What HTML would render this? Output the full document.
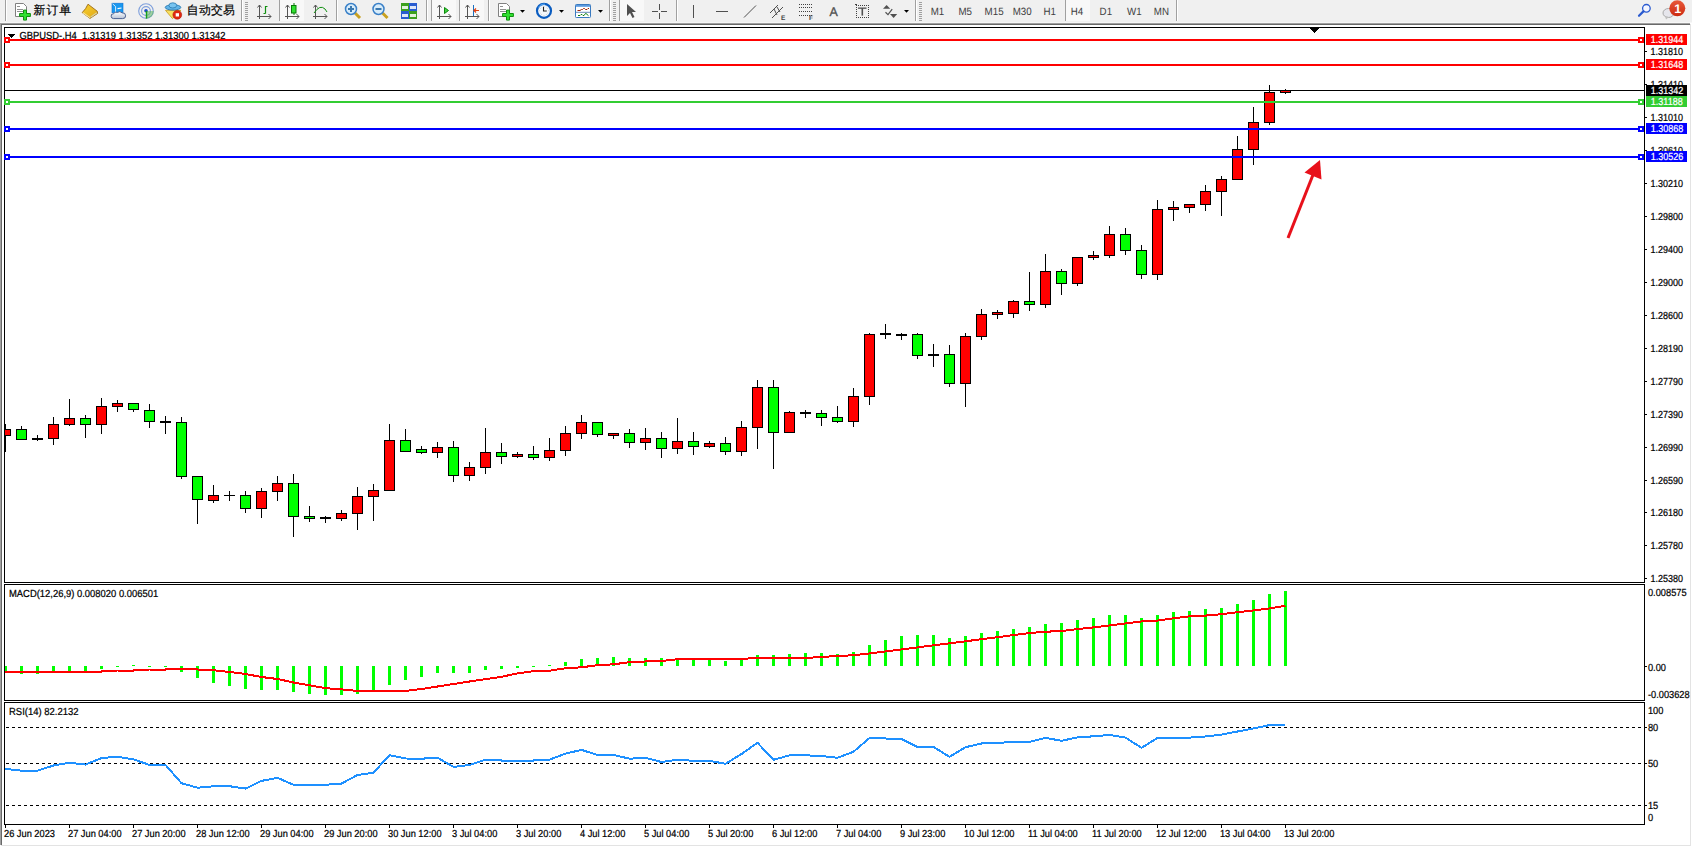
<!DOCTYPE html>
<html><head><meta charset="utf-8"><title>GBPUSD H4</title>
<style>
html,body{margin:0;padding:0;background:#f0f0f0;width:1692px;height:847px;overflow:hidden;font-family:"Liberation Sans", sans-serif;}
svg{display:block;position:absolute;left:0;top:0}
text{font-family:"Liberation Sans", sans-serif;}
</style></head><body>
<svg width="1692" height="847" viewBox="0 0 1692 847" shape-rendering="crispEdges" text-rendering="geometricPrecision">
<g shape-rendering="geometricPrecision"><rect x="0" y="0" width="1692" height="23" fill="#f0f0f0"/>
<rect x="0" y="22" width="1692" height="1" fill="#f7f7f7"/>
<rect x="5" y="0" width="1" height="21" fill="#a0a0a0"/>
<rect x="6" y="0" width="1" height="21" fill="#ffffff"/>
<rect x="241" y="0" width="1" height="21" fill="#a0a0a0"/>
<rect x="242" y="0" width="1" height="21" fill="#ffffff"/>
<rect x="279" y="0" width="1" height="21" fill="#a0a0a0"/>
<rect x="280" y="0" width="1" height="21" fill="#ffffff"/>
<rect x="336" y="0" width="1" height="21" fill="#a0a0a0"/>
<rect x="337" y="0" width="1" height="21" fill="#ffffff"/>
<rect x="426" y="0" width="1" height="21" fill="#a0a0a0"/>
<rect x="427" y="0" width="1" height="21" fill="#ffffff"/>
<rect x="431" y="0" width="1" height="21" fill="#a0a0a0"/>
<rect x="432" y="0" width="1" height="21" fill="#ffffff"/>
<rect x="459" y="0" width="1" height="21" fill="#a0a0a0"/>
<rect x="460" y="0" width="1" height="21" fill="#ffffff"/>
<rect x="488" y="0" width="1" height="21" fill="#a0a0a0"/>
<rect x="489" y="0" width="1" height="21" fill="#ffffff"/>
<rect x="609" y="0" width="1" height="21" fill="#a0a0a0"/>
<rect x="610" y="0" width="1" height="21" fill="#ffffff"/>
<rect x="619" y="0" width="1" height="21" fill="#a0a0a0"/>
<rect x="620" y="0" width="1" height="21" fill="#ffffff"/>
<rect x="676" y="0" width="1" height="21" fill="#a0a0a0"/>
<rect x="677" y="0" width="1" height="21" fill="#ffffff"/>
<rect x="915" y="0" width="1" height="21" fill="#a0a0a0"/>
<rect x="916" y="0" width="1" height="21" fill="#ffffff"/>
<rect x="1065" y="0" width="1" height="21" fill="#a0a0a0"/>
<rect x="1066" y="0" width="1" height="21" fill="#ffffff"/>
<rect x="1176" y="0" width="1" height="21" fill="#a0a0a0"/>
<rect x="1177" y="0" width="1" height="21" fill="#ffffff"/>
<rect x="245" y="2" width="3" height="1" fill="#a0a0a0"/>
<rect x="245" y="4" width="3" height="1" fill="#a0a0a0"/>
<rect x="245" y="6" width="3" height="1" fill="#a0a0a0"/>
<rect x="245" y="8" width="3" height="1" fill="#a0a0a0"/>
<rect x="245" y="10" width="3" height="1" fill="#a0a0a0"/>
<rect x="245" y="12" width="3" height="1" fill="#a0a0a0"/>
<rect x="245" y="14" width="3" height="1" fill="#a0a0a0"/>
<rect x="245" y="16" width="3" height="1" fill="#a0a0a0"/>
<rect x="245" y="18" width="3" height="1" fill="#a0a0a0"/>
<rect x="245" y="20" width="3" height="1" fill="#a0a0a0"/>
<rect x="613" y="2" width="3" height="1" fill="#a0a0a0"/>
<rect x="613" y="4" width="3" height="1" fill="#a0a0a0"/>
<rect x="613" y="6" width="3" height="1" fill="#a0a0a0"/>
<rect x="613" y="8" width="3" height="1" fill="#a0a0a0"/>
<rect x="613" y="10" width="3" height="1" fill="#a0a0a0"/>
<rect x="613" y="12" width="3" height="1" fill="#a0a0a0"/>
<rect x="613" y="14" width="3" height="1" fill="#a0a0a0"/>
<rect x="613" y="16" width="3" height="1" fill="#a0a0a0"/>
<rect x="613" y="18" width="3" height="1" fill="#a0a0a0"/>
<rect x="613" y="20" width="3" height="1" fill="#a0a0a0"/>
<rect x="919" y="2" width="3" height="1" fill="#a0a0a0"/>
<rect x="919" y="4" width="3" height="1" fill="#a0a0a0"/>
<rect x="919" y="6" width="3" height="1" fill="#a0a0a0"/>
<rect x="919" y="8" width="3" height="1" fill="#a0a0a0"/>
<rect x="919" y="10" width="3" height="1" fill="#a0a0a0"/>
<rect x="919" y="12" width="3" height="1" fill="#a0a0a0"/>
<rect x="919" y="14" width="3" height="1" fill="#a0a0a0"/>
<rect x="919" y="16" width="3" height="1" fill="#a0a0a0"/>
<rect x="919" y="18" width="3" height="1" fill="#a0a0a0"/>
<rect x="919" y="20" width="3" height="1" fill="#a0a0a0"/>
<rect x="280" y="0" width="24" height="21" fill="#f8f8f8"/>
<rect x="432" y="0" width="24" height="21" fill="#f8f8f8"/>
<rect x="460" y="0" width="24" height="21" fill="#f8f8f8"/>
<rect x="620" y="0" width="24" height="21" fill="#f8f8f8"/>
<rect x="1066" y="0" width="24" height="21" fill="#f8f8f8"/>
<path d="M15.5 3.5 h8 l3 3 v10 h-11 z" fill="#fff" stroke="#808080"/>
<rect x="17" y="6" width="3" height="1" fill="#909090"/><rect x="17" y="9" width="6" height="1" fill="#909090"/><rect x="17" y="11" width="6" height="1" fill="#909090"/>
<path d="M23.5 10.1 h3 v3.4 h3.9 v3 h-3.9 v3.6 h-3 v-3.6 h-3.9 v-3 h3.9 z" fill="#30e030" stroke="#109010" stroke-width="1"/>
<text x="33.6" y="13.6" font-family='"Liberation Sans", sans-serif' font-size="11.8" letter-spacing="1" fill="#000" stroke="#000" stroke-width="0.2">新订单</text>
<defs><linearGradient id="gbk" x1="0" y1="0" x2="1" y2="1"><stop offset="0" stop-color="#f8d030"/><stop offset="1" stop-color="#e0a818"/></linearGradient><linearGradient id="gcl" x1="0" y1="0" x2="0" y2="1"><stop offset="0" stop-color="#ffffff"/><stop offset="1" stop-color="#b8c4d8"/></linearGradient><radialGradient id="gsig" cx="0.3" cy="0.3" r="0.9"><stop offset="0" stop-color="#ffffff"/><stop offset="1" stop-color="#ffffff" stop-opacity="0"/></radialGradient><linearGradient id="gbadge" x1="0" y1="0" x2="0" y2="1"><stop offset="0" stop-color="#e8583a"/><stop offset="1" stop-color="#cc2a10"/></linearGradient></defs>
<path d="M88 4.2 L97.2 11.2 L97.6 13.4 L90 18.4 L82.2 12.6 L85.6 8.6 Z" fill="url(#gbk)" stroke="#9c6a12" stroke-width="0.9" stroke-linejoin="round"/>
<path d="M83 12.8 L90 17.6" stroke="#f6e6a0" stroke-width="1.1"/>
<path d="M90.5 17.2 L96.8 12.8" stroke="#d8d0a0" stroke-width="1.3"/>
<rect x="112" y="3.2" width="11" height="9.5" fill="#1898f0" stroke="#1070d0" stroke-width="0.6"/>
<path d="M112.6 3.8 L115.6 6.6 L115.6 12.5" fill="none" stroke="#e8f4ff" stroke-width="0.9"/>
<path d="M117.5 8.6 L121.5 8 " stroke="#ffffff" stroke-width="1.1"/>
<path d="M111.2 16.4 Q110.6 13.6 113.6 13.8 Q114.6 11.2 117.6 12.4 Q119.8 10.6 122 12.8 Q125.8 12.6 125.6 15.8 Q125.8 18.6 122.6 18.6 L113.4 18.6 Q111.2 18.4 111.2 16.4 Z" fill="url(#gcl)" stroke="#3a5488" stroke-width="0.9"/>
<circle cx="146" cy="11" r="7.3" fill="none" stroke="#6a90d8" stroke-width="1.1" opacity="0.85"/>
<circle cx="146" cy="11" r="4.4" fill="none" stroke="#6a90d8" stroke-width="1.1" opacity="0.85"/>
<path d="M146.4 11 L146.4 18.6 A7.6 7.6 0 0 0 153.8 11 Z" fill="#5cb85c" opacity="0.55"/>
<circle cx="146" cy="10.8" r="1.8" fill="#2050c8"/>
<path d="M146.5 11 L146.5 18.6" stroke="#18a018" stroke-width="1.4"/>
<path d="M165.5 10.4 L181 10.4 L172.5 18.6 Z" fill="#f8e060" stroke="#c89a18" stroke-width="0.8" stroke-linejoin="round"/>
<ellipse cx="173" cy="7.4" rx="7.8" ry="2.7" fill="#60b4e8" stroke="#2878b0" stroke-width="0.9"/>
<ellipse cx="172.8" cy="5.4" rx="3.9" ry="2.6" fill="#78c4f0" stroke="#2878b0" stroke-width="0.8"/>
<circle cx="177.3" cy="14.8" r="4.4" fill="#e02810" stroke="#b01808" stroke-width="0.6"/>
<rect x="175.7" y="13.2" width="3.3" height="3.3" fill="#fff"/>
<text x="186.8" y="13.6" font-family='"Liberation Sans", sans-serif' font-size="11.8" letter-spacing="0.3" fill="#000" stroke="#000" stroke-width="0.2">自动交易</text>
<rect x="259" y="5" width="1" height="14" fill="#555"/>
<rect x="257" y="16" width="14" height="1" fill="#555"/>
<path d="M257.5 7.5 L259.5 5 L261.5 7.5" fill="none" stroke="#555"/>
<path d="M268.5 14 L271 16.5 L268.5 19" fill="none" stroke="#555"/>
<path d="M263.5 13.5 h2 M265.5 13.5 V6.5 h2" fill="none" stroke="#109010" stroke-width="1.2"/>
<rect x="287" y="5" width="1" height="14" fill="#555"/>
<rect x="285" y="16" width="14" height="1" fill="#555"/>
<path d="M285.5 7.5 L287.5 5 L289.5 7.5" fill="none" stroke="#555"/>
<path d="M296.5 14 L299 16.5 L296.5 19" fill="none" stroke="#555"/>
<rect x="293.5" y="3" width="1" height="12" fill="#0a7a0a"/><rect x="291.5" y="5.5" width="4.5" height="7.5" fill="#30e030" stroke="#0a7a0a"/>
<rect x="315" y="5" width="1" height="14" fill="#555"/>
<rect x="313" y="16" width="14" height="1" fill="#555"/>
<path d="M313.5 7.5 L315.5 5 L317.5 7.5" fill="none" stroke="#555"/>
<path d="M324.5 14 L327 16.5 L324.5 19" fill="none" stroke="#555"/>
<path d="M314 13 Q320 4 325 9 L327 12" fill="none" stroke="#109010" stroke-width="1"/>
<line x1="355" y1="13" x2="360" y2="18" stroke="#c8a020" stroke-width="3"/>
<circle cx="351" cy="9" r="5.5" fill="#d8ecfa" stroke="#3a80c8" stroke-width="1.5"/>
<rect x="348" y="8" width="6" height="2" fill="#3a78b0"/>
<rect x="350" y="6" width="2" height="6" fill="#3a78b0"/>
<line x1="382.5" y1="13" x2="387.5" y2="18" stroke="#c8a020" stroke-width="3"/>
<circle cx="378.5" cy="9" r="5.5" fill="#d8ecfa" stroke="#3a80c8" stroke-width="1.5"/>
<rect x="375.5" y="8" width="6" height="2" fill="#3a78b0"/>
<rect x="401" y="3" width="8" height="8" fill="#3ca01e"/><rect x="409" y="3" width="8" height="8" fill="#2a5cd0"/><rect x="401" y="11" width="8" height="8" fill="#2a5cd0"/><rect x="409" y="11" width="8" height="8" fill="#3ca01e"/>
<rect x="402" y="6" width="6" height="3" fill="#fff" opacity="0.85"/>
<rect x="410" y="6" width="6" height="3" fill="#fff" opacity="0.85"/>
<rect x="402" y="14" width="6" height="3" fill="#fff" opacity="0.85"/>
<rect x="410" y="14" width="6" height="3" fill="#fff" opacity="0.85"/>
<rect x="439" y="5" width="1" height="14" fill="#555"/>
<rect x="437" y="16" width="14" height="1" fill="#555"/>
<path d="M437.5 7.5 L439.5 5 L441.5 7.5" fill="none" stroke="#555"/>
<path d="M448.5 14 L451 16.5 L448.5 19" fill="none" stroke="#555"/>
<path d="M444.5 7.5 L448.5 10.5 L444.5 13.5 Z" fill="#40d040" stroke="#0a8a0a"/>
<rect x="467" y="5" width="1" height="14" fill="#555"/>
<rect x="465" y="16" width="14" height="1" fill="#555"/>
<path d="M465.5 7.5 L467.5 5 L469.5 7.5" fill="none" stroke="#555"/>
<path d="M476.5 14 L479 16.5 L476.5 19" fill="none" stroke="#555"/>
<rect x="473" y="5" width="1" height="11" fill="#1a70c0"/>
<path d="M474 10.5 L479 10.5 M476 8.5 L474 10.5 L476 12.5" fill="none" stroke="#e04010" stroke-width="1.2"/>
<path d="M498.5 3.5 h8 l3 3 v10 h-11 z" fill="#fff" stroke="#808080"/>
<rect x="500" y="6" width="3" height="1" fill="#909090"/><rect x="500" y="9" width="6" height="1" fill="#909090"/><rect x="500" y="11" width="6" height="1" fill="#909090"/>
<path d="M506.5 10.1 h3 v3.4 h3.9 v3 h-3.9 v3.6 h-3 v-3.6 h-3.9 v-3 h3.9 z" fill="#30e030" stroke="#109010" stroke-width="1"/>
<path d="M520 10 L525 10 L522.5 12.7 Z" fill="#000"/>
<path d="M559 10 L564 10 L561.5 12.7 Z" fill="#000"/>
<path d="M598 10 L603 10 L600.5 12.7 Z" fill="#000"/>
<path d="M904 10 L909 10 L906.5 12.7 Z" fill="#000"/>
<circle cx="544" cy="10.8" r="7" fill="#f4f8fc" stroke="#0a5cc0" stroke-width="2.2"/>
<path d="M538.5 7.5 A6.5 6.5 0 0 1 545 4.2" fill="none" stroke="#60b0f8" stroke-width="1"/>
<path d="M543.5 6.8 V11 H546.8" fill="none" stroke="#222" stroke-width="1.1"/>
<circle cx="548.40" cy="10.80" r="0.35" fill="#888"/>
<circle cx="547.81" cy="13.00" r="0.35" fill="#888"/>
<circle cx="546.20" cy="14.61" r="0.35" fill="#888"/>
<circle cx="544.00" cy="15.20" r="0.35" fill="#888"/>
<circle cx="541.80" cy="14.61" r="0.35" fill="#888"/>
<circle cx="540.19" cy="13.00" r="0.35" fill="#888"/>
<circle cx="539.60" cy="10.80" r="0.35" fill="#888"/>
<circle cx="540.19" cy="8.60" r="0.35" fill="#888"/>
<circle cx="541.80" cy="6.99" r="0.35" fill="#888"/>
<circle cx="544.00" cy="6.40" r="0.35" fill="#888"/>
<circle cx="546.20" cy="6.99" r="0.35" fill="#888"/>
<circle cx="547.81" cy="8.60" r="0.35" fill="#888"/>
<rect x="575.5" y="4.5" width="15" height="13" rx="0.8" fill="#fff" stroke="#3a7ac0"/><rect x="576" y="5" width="14" height="1.8" fill="#5a9ae0"/><rect x="576" y="11.8" width="14" height="1" fill="#6a8ab8"/>
<path d="M577.5 10.5 H580 L581.5 9.5 H582.5 L583.5 8.5 H584.5 L585.5 9.5 H587 L588 8.5 H589" fill="none" stroke="#a02000" stroke-width="1"/><path d="M578 15.5 H580 L581 14.5 H582 L583 15.5 H584 L585.5 13.5 H586 L588.5 15.7" fill="none" stroke="#108010" stroke-width="1"/>
<path d="M627 4 L627 16 L630 13 L632.5 18 L634.5 17 L632 12 L636 12 Z" fill="#505050"/>
<rect x="659" y="4" width="1" height="6" fill="#505050"/><rect x="659" y="13" width="1" height="6" fill="#505050"/><rect x="652" y="11" width="6" height="1" fill="#505050"/><rect x="661" y="11" width="6" height="1" fill="#505050"/>
<rect x="693" y="5" width="1" height="13" fill="#505050"/>
<rect x="716" y="11" width="12" height="1" fill="#505050"/>
<line x1="744" y1="17.5" x2="756" y2="5.5" stroke="#505050" stroke-width="1"/>
<line x1="770" y1="13" x2="778" y2="5" stroke="#505050"/><line x1="772" y1="18" x2="783" y2="7" stroke="#505050"/><line x1="774" y1="9" x2="777" y2="15" stroke="#505050"/><line x1="777" y1="7" x2="780" y2="12" stroke="#505050"/>
<text x="781" y="20" font-family='"Liberation Sans", sans-serif' font-size="6.5" font-weight="bold" fill="#404040">E</text>
<line x1="799" y1="4.5" x2="812" y2="4.5" stroke="#404040" stroke-dasharray="1 1"/>
<line x1="799" y1="7.5" x2="812" y2="7.5" stroke="#404040" stroke-dasharray="1 1"/>
<line x1="799" y1="11.5" x2="812" y2="11.5" stroke="#404040" stroke-dasharray="1 1"/>
<line x1="799" y1="15.5" x2="812" y2="15.5" stroke="#404040" stroke-dasharray="1 1"/>
<text x="809" y="20" font-family='"Liberation Sans", sans-serif' font-size="6.5" font-weight="bold" fill="#404040">F</text>
<text x="829.6" y="16" font-family='"Liberation Sans", sans-serif' font-size="12.4" fill="#505050" stroke="#505050" stroke-width="0.35">A</text>
<rect x="856" y="5" width="1" height="1" fill="#404040"/>
<rect x="856" y="17" width="1" height="1" fill="#404040"/>
<rect x="858" y="5" width="1" height="1" fill="#404040"/>
<rect x="858" y="17" width="1" height="1" fill="#404040"/>
<rect x="860" y="5" width="1" height="1" fill="#404040"/>
<rect x="860" y="17" width="1" height="1" fill="#404040"/>
<rect x="862" y="5" width="1" height="1" fill="#404040"/>
<rect x="862" y="17" width="1" height="1" fill="#404040"/>
<rect x="864" y="5" width="1" height="1" fill="#404040"/>
<rect x="864" y="17" width="1" height="1" fill="#404040"/>
<rect x="866" y="5" width="1" height="1" fill="#404040"/>
<rect x="866" y="17" width="1" height="1" fill="#404040"/>
<rect x="868" y="5" width="1" height="1" fill="#404040"/>
<rect x="868" y="17" width="1" height="1" fill="#404040"/>
<rect x="856" y="7" width="1" height="1" fill="#404040"/>
<rect x="868" y="7" width="1" height="1" fill="#404040"/>
<rect x="856" y="9" width="1" height="1" fill="#404040"/>
<rect x="868" y="9" width="1" height="1" fill="#404040"/>
<rect x="856" y="11" width="1" height="1" fill="#404040"/>
<rect x="868" y="11" width="1" height="1" fill="#404040"/>
<rect x="856" y="13" width="1" height="1" fill="#404040"/>
<rect x="868" y="13" width="1" height="1" fill="#404040"/>
<rect x="856" y="15" width="1" height="1" fill="#404040"/>
<rect x="868" y="15" width="1" height="1" fill="#404040"/>
<rect x="855" y="4" width="2" height="1" fill="#404040"/>
<rect x="858" y="7.5" width="8.5" height="1.3" fill="#505050"/><rect x="861.5" y="8" width="1.6" height="7.6" fill="#505050"/>
<path d="M883 8.8 L886.6 5 L890.2 8.8 Z" fill="#505050"/><path d="M890 14 L897.2 14 L893.6 18 Z" fill="#505050"/><path d="M885.5 12.2 L888 14.6 L892.2 9.2" fill="none" stroke="#505050" stroke-width="1.2"/>
<text x="930.7" y="15" transform="translate(74.456,0) scale(0.92,1)" font-family='"Liberation Sans", sans-serif' font-size="10.6" fill="#404040">M1</text>
<text x="958.5" y="15" transform="translate(76.680,0) scale(0.92,1)" font-family='"Liberation Sans", sans-serif' font-size="10.6" fill="#404040">M5</text>
<text x="984.6" y="15" transform="translate(78.768,0) scale(0.92,1)" font-family='"Liberation Sans", sans-serif' font-size="10.6" fill="#404040">M15</text>
<text x="1012.7" y="15" transform="translate(81.016,0) scale(0.92,1)" font-family='"Liberation Sans", sans-serif' font-size="10.6" fill="#404040">M30</text>
<text x="1043.5" y="15" transform="translate(83.480,0) scale(0.92,1)" font-family='"Liberation Sans", sans-serif' font-size="10.6" fill="#404040">H1</text>
<text x="1070.8" y="15" transform="translate(85.664,0) scale(0.92,1)" font-family='"Liberation Sans", sans-serif' font-size="10.6" fill="#404040">H4</text>
<text x="1099.6" y="15" transform="translate(87.968,0) scale(0.92,1)" font-family='"Liberation Sans", sans-serif' font-size="10.6" fill="#404040">D1</text>
<text x="1127" y="15" transform="translate(90.160,0) scale(0.92,1)" font-family='"Liberation Sans", sans-serif' font-size="10.6" fill="#404040">W1</text>
<text x="1153.8" y="15" transform="translate(92.304,0) scale(0.92,1)" font-family='"Liberation Sans", sans-serif' font-size="10.6" fill="#404040">MN</text>
<circle cx="1646.4" cy="8.3" r="3.8" fill="#f4f6ff" stroke="#2a5ad0" stroke-width="1.3"/>
<line x1="1643.4" y1="11.4" x2="1639" y2="15.8" stroke="#2a5ad0" stroke-width="2.2" stroke-linecap="round"/>
<ellipse cx="1668.5" cy="13" rx="5.5" ry="4.5" fill="#e6e6ec" stroke="#a8a8a8"/>
<path d="M1665 16 L1666 19.5 L1669 17" fill="#c0c0c0"/>
<circle cx="1677.3" cy="8.3" r="8" fill="url(#gbadge)"/>
<text x="1674.3" y="13.2" font-family="Liberation Serif, serif" font-size="12.5" font-weight="bold" fill="#fff">1</text></g>
<rect x="0" y="23" width="1692" height="824" fill="#ffffff"/>
<rect x="0" y="23" width="1690" height="1" fill="#a0a0a0"/>
<rect x="1" y="24" width="1689" height="1" fill="#696969"/>
<rect x="0" y="23" width="1" height="822" fill="#a0a0a0"/>
<rect x="1" y="24" width="1" height="821" fill="#696969"/>
<rect x="1690" y="24" width="1" height="822" fill="#e3e3e3"/>
<rect x="1" y="845" width="1690" height="1" fill="#e3e3e3"/>
<rect x="4" y="27" width="1641" height="1" fill="#000"/>
<rect x="4" y="582" width="1641" height="1" fill="#000"/>
<rect x="4" y="27" width="1" height="556" fill="#000"/>
<rect x="1644" y="27" width="1" height="556" fill="#000"/>
<rect x="4" y="584" width="1641" height="1" fill="#000"/>
<rect x="4" y="700" width="1641" height="1" fill="#000"/>
<rect x="4" y="584" width="1" height="117" fill="#000"/>
<rect x="1644" y="584" width="1" height="117" fill="#000"/>
<rect x="4" y="702" width="1641" height="1" fill="#000"/>
<rect x="4" y="824" width="1641" height="1" fill="#000"/>
<rect x="4" y="702" width="1" height="123" fill="#000"/>
<rect x="1644" y="702" width="1" height="123" fill="#000"/>
<defs><clipPath id="cm"><rect x="5" y="28" width="1639" height="554"/></clipPath></defs>
<g clip-path="url(#cm)">
<rect x="5" y="424" width="1" height="28" fill="#000"/>
<rect x="0" y="429" width="11" height="7" fill="#000"/>
<rect x="1" y="430" width="9" height="5" fill="#ff0000"/>
<rect x="21" y="426" width="1" height="14" fill="#000"/>
<rect x="16" y="429" width="11" height="11" fill="#000"/>
<rect x="17" y="430" width="9" height="9" fill="#00ff00"/>
<rect x="37" y="435" width="1" height="6" fill="#000"/>
<rect x="32" y="438" width="11" height="2" fill="#000"/>
<rect x="53" y="417" width="1" height="28" fill="#000"/>
<rect x="48" y="424" width="11" height="15" fill="#000"/>
<rect x="49" y="425" width="9" height="13" fill="#ff0000"/>
<rect x="69" y="399" width="1" height="27" fill="#000"/>
<rect x="64" y="418" width="11" height="7" fill="#000"/>
<rect x="65" y="419" width="9" height="5" fill="#ff0000"/>
<rect x="85" y="415" width="1" height="23" fill="#000"/>
<rect x="80" y="418" width="11" height="7" fill="#000"/>
<rect x="81" y="419" width="9" height="5" fill="#00ff00"/>
<rect x="101" y="398" width="1" height="36" fill="#000"/>
<rect x="96" y="406" width="11" height="19" fill="#000"/>
<rect x="97" y="407" width="9" height="17" fill="#ff0000"/>
<rect x="117" y="400" width="1" height="12" fill="#000"/>
<rect x="112" y="403" width="11" height="4" fill="#000"/>
<rect x="113" y="404" width="9" height="2" fill="#ff0000"/>
<rect x="133" y="403" width="1" height="9" fill="#000"/>
<rect x="128" y="403" width="11" height="7" fill="#000"/>
<rect x="129" y="404" width="9" height="5" fill="#00ff00"/>
<rect x="149" y="404" width="1" height="24" fill="#000"/>
<rect x="144" y="410" width="11" height="12" fill="#000"/>
<rect x="145" y="411" width="9" height="10" fill="#00ff00"/>
<rect x="165" y="416" width="1" height="18" fill="#000"/>
<rect x="160" y="421" width="11" height="2" fill="#000"/>
<rect x="181" y="417" width="1" height="62" fill="#000"/>
<rect x="176" y="422" width="11" height="55" fill="#000"/>
<rect x="177" y="423" width="9" height="53" fill="#00ff00"/>
<rect x="197" y="476" width="1" height="48" fill="#000"/>
<rect x="192" y="476" width="11" height="24" fill="#000"/>
<rect x="193" y="477" width="9" height="22" fill="#00ff00"/>
<rect x="213" y="485" width="1" height="18" fill="#000"/>
<rect x="208" y="495" width="11" height="6" fill="#000"/>
<rect x="209" y="496" width="9" height="4" fill="#ff0000"/>
<rect x="229" y="491" width="1" height="10" fill="#000"/>
<rect x="224" y="495" width="11" height="1" fill="#000"/>
<rect x="245" y="491" width="1" height="22" fill="#000"/>
<rect x="240" y="495" width="11" height="14" fill="#000"/>
<rect x="241" y="496" width="9" height="12" fill="#00ff00"/>
<rect x="261" y="488" width="1" height="30" fill="#000"/>
<rect x="256" y="491" width="11" height="18" fill="#000"/>
<rect x="257" y="492" width="9" height="16" fill="#ff0000"/>
<rect x="277" y="476" width="1" height="25" fill="#000"/>
<rect x="272" y="483" width="11" height="9" fill="#000"/>
<rect x="273" y="484" width="9" height="7" fill="#ff0000"/>
<rect x="293" y="474" width="1" height="63" fill="#000"/>
<rect x="288" y="483" width="11" height="34" fill="#000"/>
<rect x="289" y="484" width="9" height="32" fill="#00ff00"/>
<rect x="309" y="506" width="1" height="16" fill="#000"/>
<rect x="304" y="516" width="11" height="3" fill="#000"/>
<rect x="305" y="517" width="9" height="1" fill="#00ff00"/>
<rect x="325" y="516" width="1" height="7" fill="#000"/>
<rect x="320" y="517" width="11" height="2" fill="#000"/>
<rect x="341" y="510" width="1" height="11" fill="#000"/>
<rect x="336" y="513" width="11" height="6" fill="#000"/>
<rect x="337" y="514" width="9" height="4" fill="#ff0000"/>
<rect x="357" y="487" width="1" height="43" fill="#000"/>
<rect x="352" y="496" width="11" height="18" fill="#000"/>
<rect x="353" y="497" width="9" height="16" fill="#ff0000"/>
<rect x="373" y="484" width="1" height="37" fill="#000"/>
<rect x="368" y="490" width="11" height="7" fill="#000"/>
<rect x="369" y="491" width="9" height="5" fill="#ff0000"/>
<rect x="389" y="424" width="1" height="67" fill="#000"/>
<rect x="384" y="440" width="11" height="51" fill="#000"/>
<rect x="385" y="441" width="9" height="49" fill="#ff0000"/>
<rect x="405" y="429" width="1" height="23" fill="#000"/>
<rect x="400" y="440" width="11" height="12" fill="#000"/>
<rect x="401" y="441" width="9" height="10" fill="#00ff00"/>
<rect x="421" y="446" width="1" height="8" fill="#000"/>
<rect x="416" y="449" width="11" height="4" fill="#000"/>
<rect x="417" y="450" width="9" height="2" fill="#00ff00"/>
<rect x="437" y="442" width="1" height="16" fill="#000"/>
<rect x="432" y="447" width="11" height="6" fill="#000"/>
<rect x="433" y="448" width="9" height="4" fill="#ff0000"/>
<rect x="453" y="441" width="1" height="41" fill="#000"/>
<rect x="448" y="447" width="11" height="29" fill="#000"/>
<rect x="449" y="448" width="9" height="27" fill="#00ff00"/>
<rect x="469" y="462" width="1" height="19" fill="#000"/>
<rect x="464" y="467" width="11" height="9" fill="#000"/>
<rect x="465" y="468" width="9" height="7" fill="#ff0000"/>
<rect x="485" y="428" width="1" height="46" fill="#000"/>
<rect x="480" y="452" width="11" height="16" fill="#000"/>
<rect x="481" y="453" width="9" height="14" fill="#ff0000"/>
<rect x="501" y="443" width="1" height="21" fill="#000"/>
<rect x="496" y="452" width="11" height="5" fill="#000"/>
<rect x="497" y="453" width="9" height="3" fill="#00ff00"/>
<rect x="517" y="452" width="1" height="6" fill="#000"/>
<rect x="512" y="454" width="11" height="3" fill="#000"/>
<rect x="513" y="455" width="9" height="1" fill="#ff0000"/>
<rect x="533" y="446" width="1" height="14" fill="#000"/>
<rect x="528" y="454" width="11" height="4" fill="#000"/>
<rect x="529" y="455" width="9" height="2" fill="#00ff00"/>
<rect x="549" y="438" width="1" height="23" fill="#000"/>
<rect x="544" y="450" width="11" height="8" fill="#000"/>
<rect x="545" y="451" width="9" height="6" fill="#ff0000"/>
<rect x="565" y="426" width="1" height="30" fill="#000"/>
<rect x="560" y="433" width="11" height="18" fill="#000"/>
<rect x="561" y="434" width="9" height="16" fill="#ff0000"/>
<rect x="581" y="415" width="1" height="24" fill="#000"/>
<rect x="576" y="422" width="11" height="12" fill="#000"/>
<rect x="577" y="423" width="9" height="10" fill="#ff0000"/>
<rect x="597" y="422" width="1" height="15" fill="#000"/>
<rect x="592" y="422" width="11" height="13" fill="#000"/>
<rect x="593" y="423" width="9" height="11" fill="#00ff00"/>
<rect x="613" y="433" width="1" height="6" fill="#000"/>
<rect x="608" y="433" width="11" height="3" fill="#000"/>
<rect x="609" y="434" width="9" height="1" fill="#ff0000"/>
<rect x="629" y="429" width="1" height="19" fill="#000"/>
<rect x="624" y="433" width="11" height="10" fill="#000"/>
<rect x="625" y="434" width="9" height="8" fill="#00ff00"/>
<rect x="645" y="428" width="1" height="22" fill="#000"/>
<rect x="640" y="438" width="11" height="5" fill="#000"/>
<rect x="641" y="439" width="9" height="3" fill="#ff0000"/>
<rect x="661" y="432" width="1" height="26" fill="#000"/>
<rect x="656" y="438" width="11" height="11" fill="#000"/>
<rect x="657" y="439" width="9" height="9" fill="#00ff00"/>
<rect x="677" y="418" width="1" height="36" fill="#000"/>
<rect x="672" y="441" width="11" height="8" fill="#000"/>
<rect x="673" y="442" width="9" height="6" fill="#ff0000"/>
<rect x="693" y="432" width="1" height="23" fill="#000"/>
<rect x="688" y="441" width="11" height="6" fill="#000"/>
<rect x="689" y="442" width="9" height="4" fill="#00ff00"/>
<rect x="709" y="441" width="1" height="7" fill="#000"/>
<rect x="704" y="443" width="11" height="4" fill="#000"/>
<rect x="705" y="444" width="9" height="2" fill="#ff0000"/>
<rect x="725" y="437" width="1" height="18" fill="#000"/>
<rect x="720" y="443" width="11" height="9" fill="#000"/>
<rect x="721" y="444" width="9" height="7" fill="#00ff00"/>
<rect x="741" y="421" width="1" height="35" fill="#000"/>
<rect x="736" y="427" width="11" height="25" fill="#000"/>
<rect x="737" y="428" width="9" height="23" fill="#ff0000"/>
<rect x="757" y="380" width="1" height="69" fill="#000"/>
<rect x="752" y="387" width="11" height="41" fill="#000"/>
<rect x="753" y="388" width="9" height="39" fill="#ff0000"/>
<rect x="773" y="380" width="1" height="89" fill="#000"/>
<rect x="768" y="387" width="11" height="46" fill="#000"/>
<rect x="769" y="388" width="9" height="44" fill="#00ff00"/>
<rect x="789" y="411" width="1" height="22" fill="#000"/>
<rect x="784" y="412" width="11" height="21" fill="#000"/>
<rect x="785" y="413" width="9" height="19" fill="#ff0000"/>
<rect x="805" y="410" width="1" height="8" fill="#000"/>
<rect x="800" y="412" width="11" height="2" fill="#000"/>
<rect x="821" y="410" width="1" height="16" fill="#000"/>
<rect x="816" y="413" width="11" height="5" fill="#000"/>
<rect x="817" y="414" width="9" height="3" fill="#00ff00"/>
<rect x="837" y="406" width="1" height="17" fill="#000"/>
<rect x="832" y="417" width="11" height="5" fill="#000"/>
<rect x="833" y="418" width="9" height="3" fill="#00ff00"/>
<rect x="853" y="388" width="1" height="39" fill="#000"/>
<rect x="848" y="396" width="11" height="26" fill="#000"/>
<rect x="849" y="397" width="9" height="24" fill="#ff0000"/>
<rect x="869" y="333" width="1" height="72" fill="#000"/>
<rect x="864" y="334" width="11" height="63" fill="#000"/>
<rect x="865" y="335" width="9" height="61" fill="#ff0000"/>
<rect x="885" y="324" width="1" height="15" fill="#000"/>
<rect x="880" y="333" width="11" height="2" fill="#000"/>
<rect x="901" y="333" width="1" height="7" fill="#000"/>
<rect x="896" y="334" width="11" height="2" fill="#000"/>
<rect x="917" y="333" width="1" height="26" fill="#000"/>
<rect x="912" y="334" width="11" height="22" fill="#000"/>
<rect x="913" y="335" width="9" height="20" fill="#00ff00"/>
<rect x="933" y="344" width="1" height="23" fill="#000"/>
<rect x="928" y="354" width="11" height="2" fill="#000"/>
<rect x="949" y="345" width="1" height="42" fill="#000"/>
<rect x="944" y="354" width="11" height="30" fill="#000"/>
<rect x="945" y="355" width="9" height="28" fill="#00ff00"/>
<rect x="965" y="333" width="1" height="74" fill="#000"/>
<rect x="960" y="336" width="11" height="48" fill="#000"/>
<rect x="961" y="337" width="9" height="46" fill="#ff0000"/>
<rect x="981" y="309" width="1" height="31" fill="#000"/>
<rect x="976" y="314" width="11" height="23" fill="#000"/>
<rect x="977" y="315" width="9" height="21" fill="#ff0000"/>
<rect x="997" y="310" width="1" height="9" fill="#000"/>
<rect x="992" y="312" width="11" height="3" fill="#000"/>
<rect x="993" y="313" width="9" height="1" fill="#ff0000"/>
<rect x="1013" y="300" width="1" height="18" fill="#000"/>
<rect x="1008" y="301" width="11" height="13" fill="#000"/>
<rect x="1009" y="302" width="9" height="11" fill="#ff0000"/>
<rect x="1029" y="272" width="1" height="39" fill="#000"/>
<rect x="1024" y="301" width="11" height="4" fill="#000"/>
<rect x="1025" y="302" width="9" height="2" fill="#00ff00"/>
<rect x="1045" y="254" width="1" height="54" fill="#000"/>
<rect x="1040" y="271" width="11" height="34" fill="#000"/>
<rect x="1041" y="272" width="9" height="32" fill="#ff0000"/>
<rect x="1061" y="269" width="1" height="26" fill="#000"/>
<rect x="1056" y="271" width="11" height="13" fill="#000"/>
<rect x="1057" y="272" width="9" height="11" fill="#00ff00"/>
<rect x="1077" y="257" width="1" height="29" fill="#000"/>
<rect x="1072" y="257" width="11" height="27" fill="#000"/>
<rect x="1073" y="258" width="9" height="25" fill="#ff0000"/>
<rect x="1093" y="251" width="1" height="9" fill="#000"/>
<rect x="1088" y="255" width="11" height="3" fill="#000"/>
<rect x="1089" y="256" width="9" height="1" fill="#ff0000"/>
<rect x="1109" y="226" width="1" height="32" fill="#000"/>
<rect x="1104" y="234" width="11" height="22" fill="#000"/>
<rect x="1105" y="235" width="9" height="20" fill="#ff0000"/>
<rect x="1125" y="228" width="1" height="27" fill="#000"/>
<rect x="1120" y="234" width="11" height="17" fill="#000"/>
<rect x="1121" y="235" width="9" height="15" fill="#00ff00"/>
<rect x="1141" y="245" width="1" height="34" fill="#000"/>
<rect x="1136" y="250" width="11" height="25" fill="#000"/>
<rect x="1137" y="251" width="9" height="23" fill="#00ff00"/>
<rect x="1157" y="200" width="1" height="80" fill="#000"/>
<rect x="1152" y="209" width="11" height="66" fill="#000"/>
<rect x="1153" y="210" width="9" height="64" fill="#ff0000"/>
<rect x="1173" y="201" width="1" height="20" fill="#000"/>
<rect x="1168" y="207" width="11" height="3" fill="#000"/>
<rect x="1169" y="208" width="9" height="1" fill="#ff0000"/>
<rect x="1189" y="204" width="1" height="9" fill="#000"/>
<rect x="1184" y="204" width="11" height="4" fill="#000"/>
<rect x="1185" y="205" width="9" height="2" fill="#ff0000"/>
<rect x="1205" y="185" width="1" height="26" fill="#000"/>
<rect x="1200" y="191" width="11" height="14" fill="#000"/>
<rect x="1201" y="192" width="9" height="12" fill="#ff0000"/>
<rect x="1221" y="176" width="1" height="40" fill="#000"/>
<rect x="1216" y="179" width="11" height="13" fill="#000"/>
<rect x="1217" y="180" width="9" height="11" fill="#ff0000"/>
<rect x="1237" y="136" width="1" height="44" fill="#000"/>
<rect x="1232" y="149" width="11" height="31" fill="#000"/>
<rect x="1233" y="150" width="9" height="29" fill="#ff0000"/>
<rect x="1253" y="107" width="1" height="58" fill="#000"/>
<rect x="1248" y="122" width="11" height="28" fill="#000"/>
<rect x="1249" y="123" width="9" height="26" fill="#ff0000"/>
<rect x="1269" y="85" width="1" height="40" fill="#000"/>
<rect x="1264" y="92" width="11" height="31" fill="#000"/>
<rect x="1265" y="93" width="9" height="29" fill="#ff0000"/>
<rect x="1285" y="89" width="1" height="5" fill="#000"/>
<rect x="1280" y="90" width="11" height="3" fill="#000"/>
<rect x="1281" y="91" width="9" height="1" fill="#ff0000"/>
</g>
<rect x="5" y="39" width="1639" height="2" fill="#ff0000"/>
<rect x="4" y="37" width="6" height="6" fill="#ff0000"/>
<rect x="6" y="39" width="2" height="2" fill="#fff"/>
<rect x="1638" y="37" width="6" height="6" fill="#ff0000"/>
<rect x="1640" y="39" width="2" height="2" fill="#fff"/>
<rect x="5" y="64" width="1639" height="2" fill="#ff0000"/>
<rect x="4" y="62" width="6" height="6" fill="#ff0000"/>
<rect x="6" y="64" width="2" height="2" fill="#fff"/>
<rect x="1638" y="62" width="6" height="6" fill="#ff0000"/>
<rect x="1640" y="64" width="2" height="2" fill="#fff"/>
<rect x="5" y="90" width="1639" height="1" fill="#000"/>
<rect x="5" y="101" width="1639" height="2" fill="#32cd32"/>
<rect x="4" y="99" width="6" height="6" fill="#32cd32"/>
<rect x="6" y="101" width="2" height="2" fill="#fff"/>
<rect x="1638" y="99" width="6" height="6" fill="#32cd32"/>
<rect x="1640" y="101" width="2" height="2" fill="#fff"/>
<rect x="5" y="128" width="1639" height="2" fill="#0000ff"/>
<rect x="4" y="126" width="6" height="6" fill="#0000ff"/>
<rect x="6" y="128" width="2" height="2" fill="#fff"/>
<rect x="1638" y="126" width="6" height="6" fill="#0000ff"/>
<rect x="1640" y="128" width="2" height="2" fill="#fff"/>
<rect x="5" y="156" width="1639" height="2" fill="#0000ff"/>
<rect x="4" y="154" width="6" height="6" fill="#0000ff"/>
<rect x="6" y="156" width="2" height="2" fill="#fff"/>
<rect x="1638" y="154" width="6" height="6" fill="#0000ff"/>
<rect x="1640" y="156" width="2" height="2" fill="#fff"/>
<path d="M1309.5 28 L1319.5 28 L1314.5 33 Z" fill="#000"/>
<path d="M8 34 L15 34 L11.5 38 Z" fill="#000"/>
<g shape-rendering="geometricPrecision"><line x1="1288" y1="238" x2="1314.5" y2="171" stroke="#e8111b" stroke-width="3"/>
<path d="M1320 160 L1321.5 179.5 L1304.5 172.5 Z" fill="#e8111b"/></g>
<text x="19.4" y="39" transform="translate(1.534,0) scale(0.9209,1)" font-family='"Liberation Sans", sans-serif' font-size="10.2" fill="#000" stroke="#000" stroke-width="0.22">GBPUSD-.H4&#160; 1.31319 1.31352 1.31300 1.31342</text>
<rect x="1645" y="51" width="2" height="1" fill="#000"/>
<text x="1650.5" y="55" transform="translate(195.487,0) scale(0.8816,1)" font-family='"Liberation Sans", sans-serif' font-size="10.2" fill="#000" stroke="#000" stroke-width="0.22">1.31810</text>
<rect x="1645" y="84" width="2" height="1" fill="#000"/>
<text x="1650.5" y="88" transform="translate(195.487,0) scale(0.8816,1)" font-family='"Liberation Sans", sans-serif' font-size="10.2" fill="#000" stroke="#000" stroke-width="0.22">1.31410</text>
<rect x="1645" y="117" width="2" height="1" fill="#000"/>
<text x="1650.5" y="121" transform="translate(195.487,0) scale(0.8816,1)" font-family='"Liberation Sans", sans-serif' font-size="10.2" fill="#000" stroke="#000" stroke-width="0.22">1.31010</text>
<rect x="1645" y="150" width="2" height="1" fill="#000"/>
<text x="1650.5" y="154" transform="translate(195.487,0) scale(0.8816,1)" font-family='"Liberation Sans", sans-serif' font-size="10.2" fill="#000" stroke="#000" stroke-width="0.22">1.30610</text>
<rect x="1645" y="183" width="2" height="1" fill="#000"/>
<text x="1650.5" y="187" transform="translate(195.487,0) scale(0.8816,1)" font-family='"Liberation Sans", sans-serif' font-size="10.2" fill="#000" stroke="#000" stroke-width="0.22">1.30210</text>
<rect x="1645" y="216" width="2" height="1" fill="#000"/>
<text x="1650.5" y="220" transform="translate(195.487,0) scale(0.8816,1)" font-family='"Liberation Sans", sans-serif' font-size="10.2" fill="#000" stroke="#000" stroke-width="0.22">1.29800</text>
<rect x="1645" y="249" width="2" height="1" fill="#000"/>
<text x="1650.5" y="253" transform="translate(195.487,0) scale(0.8816,1)" font-family='"Liberation Sans", sans-serif' font-size="10.2" fill="#000" stroke="#000" stroke-width="0.22">1.29400</text>
<rect x="1645" y="282" width="2" height="1" fill="#000"/>
<text x="1650.5" y="286" transform="translate(195.487,0) scale(0.8816,1)" font-family='"Liberation Sans", sans-serif' font-size="10.2" fill="#000" stroke="#000" stroke-width="0.22">1.29000</text>
<rect x="1645" y="315" width="2" height="1" fill="#000"/>
<text x="1650.5" y="319" transform="translate(195.487,0) scale(0.8816,1)" font-family='"Liberation Sans", sans-serif' font-size="10.2" fill="#000" stroke="#000" stroke-width="0.22">1.28600</text>
<rect x="1645" y="348" width="2" height="1" fill="#000"/>
<text x="1650.5" y="352" transform="translate(195.487,0) scale(0.8816,1)" font-family='"Liberation Sans", sans-serif' font-size="10.2" fill="#000" stroke="#000" stroke-width="0.22">1.28190</text>
<rect x="1645" y="381" width="2" height="1" fill="#000"/>
<text x="1650.5" y="385" transform="translate(195.487,0) scale(0.8816,1)" font-family='"Liberation Sans", sans-serif' font-size="10.2" fill="#000" stroke="#000" stroke-width="0.22">1.27790</text>
<rect x="1645" y="414" width="2" height="1" fill="#000"/>
<text x="1650.5" y="418" transform="translate(195.487,0) scale(0.8816,1)" font-family='"Liberation Sans", sans-serif' font-size="10.2" fill="#000" stroke="#000" stroke-width="0.22">1.27390</text>
<rect x="1645" y="447" width="2" height="1" fill="#000"/>
<text x="1650.5" y="451" transform="translate(195.487,0) scale(0.8816,1)" font-family='"Liberation Sans", sans-serif' font-size="10.2" fill="#000" stroke="#000" stroke-width="0.22">1.26990</text>
<rect x="1645" y="480" width="2" height="1" fill="#000"/>
<text x="1650.5" y="484" transform="translate(195.487,0) scale(0.8816,1)" font-family='"Liberation Sans", sans-serif' font-size="10.2" fill="#000" stroke="#000" stroke-width="0.22">1.26590</text>
<rect x="1645" y="512" width="2" height="1" fill="#000"/>
<text x="1650.5" y="516" transform="translate(195.487,0) scale(0.8816,1)" font-family='"Liberation Sans", sans-serif' font-size="10.2" fill="#000" stroke="#000" stroke-width="0.22">1.26180</text>
<rect x="1645" y="545" width="2" height="1" fill="#000"/>
<text x="1650.5" y="549" transform="translate(195.487,0) scale(0.8816,1)" font-family='"Liberation Sans", sans-serif' font-size="10.2" fill="#000" stroke="#000" stroke-width="0.22">1.25780</text>
<rect x="1645" y="578" width="2" height="1" fill="#000"/>
<text x="1650.5" y="582" transform="translate(195.487,0) scale(0.8816,1)" font-family='"Liberation Sans", sans-serif' font-size="10.2" fill="#000" stroke="#000" stroke-width="0.22">1.25380</text>
<rect x="1646" y="34" width="41" height="11" fill="#ff0000"/>
<text x="1650.8" y="43" transform="translate(195.523,0) scale(0.8816,1)" font-family='"Liberation Sans", sans-serif' font-size="10.2" fill="#fff" stroke="#fff" stroke-width="0.22">1.31944</text>
<rect x="1646" y="59" width="41" height="11" fill="#ff0000"/>
<text x="1650.8" y="68" transform="translate(195.523,0) scale(0.8816,1)" font-family='"Liberation Sans", sans-serif' font-size="10.2" fill="#fff" stroke="#fff" stroke-width="0.22">1.31648</text>
<rect x="1646" y="85" width="41" height="11" fill="#000000"/>
<text x="1650.8" y="94" transform="translate(195.523,0) scale(0.8816,1)" font-family='"Liberation Sans", sans-serif' font-size="10.2" fill="#fff" stroke="#fff" stroke-width="0.22">1.31342</text>
<rect x="1646" y="96" width="41" height="11" fill="#32cd32"/>
<text x="1650.8" y="105" transform="translate(195.523,0) scale(0.8816,1)" font-family='"Liberation Sans", sans-serif' font-size="10.2" fill="#fff" stroke="#fff" stroke-width="0.22">1.31188</text>
<rect x="1646" y="123" width="41" height="11" fill="#0000ff"/>
<text x="1650.8" y="132" transform="translate(195.523,0) scale(0.8816,1)" font-family='"Liberation Sans", sans-serif' font-size="10.2" fill="#fff" stroke="#fff" stroke-width="0.22">1.30868</text>
<rect x="1646" y="151" width="41" height="11" fill="#0000ff"/>
<text x="1650.8" y="160" transform="translate(195.523,0) scale(0.8816,1)" font-family='"Liberation Sans", sans-serif' font-size="10.2" fill="#fff" stroke="#fff" stroke-width="0.22">1.30526</text>
<defs><clipPath id="cmacd"><rect x="5" y="585" width="1639" height="115"/></clipPath></defs>
<g clip-path="url(#cmacd)">
<rect x="4" y="666" width="3" height="6" fill="#00ff00"/>
<rect x="20" y="666" width="3" height="8" fill="#00ff00"/>
<rect x="36" y="666" width="3" height="8" fill="#00ff00"/>
<rect x="52" y="666" width="3" height="5" fill="#00ff00"/>
<rect x="68" y="666" width="3" height="5" fill="#00ff00"/>
<rect x="84" y="666" width="3" height="5" fill="#00ff00"/>
<rect x="100" y="666" width="3" height="3" fill="#00ff00"/>
<rect x="116" y="666" width="3" height="1" fill="#00ff00"/>
<rect x="132" y="665" width="3" height="1" fill="#00ff00"/>
<rect x="148" y="666" width="3" height="1" fill="#00ff00"/>
<rect x="164" y="666" width="3" height="1" fill="#00ff00"/>
<rect x="180" y="666" width="3" height="6" fill="#00ff00"/>
<rect x="196" y="666" width="3" height="12" fill="#00ff00"/>
<rect x="212" y="666" width="3" height="17" fill="#00ff00"/>
<rect x="228" y="666" width="3" height="20" fill="#00ff00"/>
<rect x="244" y="666" width="3" height="23" fill="#00ff00"/>
<rect x="260" y="666" width="3" height="24" fill="#00ff00"/>
<rect x="276" y="666" width="3" height="24" fill="#00ff00"/>
<rect x="292" y="666" width="3" height="26" fill="#00ff00"/>
<rect x="308" y="666" width="3" height="28" fill="#00ff00"/>
<rect x="324" y="666" width="3" height="29" fill="#00ff00"/>
<rect x="340" y="666" width="3" height="29" fill="#00ff00"/>
<rect x="356" y="666" width="3" height="28" fill="#00ff00"/>
<rect x="372" y="666" width="3" height="24" fill="#00ff00"/>
<rect x="388" y="666" width="3" height="19" fill="#00ff00"/>
<rect x="404" y="666" width="3" height="14" fill="#00ff00"/>
<rect x="420" y="666" width="3" height="11" fill="#00ff00"/>
<rect x="436" y="666" width="3" height="7" fill="#00ff00"/>
<rect x="452" y="666" width="3" height="7" fill="#00ff00"/>
<rect x="468" y="666" width="3" height="7" fill="#00ff00"/>
<rect x="484" y="666" width="3" height="4" fill="#00ff00"/>
<rect x="500" y="666" width="3" height="3" fill="#00ff00"/>
<rect x="516" y="666" width="3" height="2" fill="#00ff00"/>
<rect x="532" y="666" width="3" height="1" fill="#00ff00"/>
<rect x="548" y="665" width="3" height="1" fill="#00ff00"/>
<rect x="564" y="662" width="3" height="4" fill="#00ff00"/>
<rect x="580" y="659" width="3" height="7" fill="#00ff00"/>
<rect x="596" y="658" width="3" height="8" fill="#00ff00"/>
<rect x="612" y="657" width="3" height="9" fill="#00ff00"/>
<rect x="628" y="658" width="3" height="8" fill="#00ff00"/>
<rect x="644" y="658" width="3" height="8" fill="#00ff00"/>
<rect x="660" y="658" width="3" height="8" fill="#00ff00"/>
<rect x="676" y="659" width="3" height="7" fill="#00ff00"/>
<rect x="692" y="660" width="3" height="6" fill="#00ff00"/>
<rect x="708" y="660" width="3" height="6" fill="#00ff00"/>
<rect x="724" y="661" width="3" height="5" fill="#00ff00"/>
<rect x="740" y="660" width="3" height="6" fill="#00ff00"/>
<rect x="756" y="655" width="3" height="11" fill="#00ff00"/>
<rect x="772" y="655" width="3" height="11" fill="#00ff00"/>
<rect x="788" y="654" width="3" height="12" fill="#00ff00"/>
<rect x="804" y="653" width="3" height="13" fill="#00ff00"/>
<rect x="820" y="653" width="3" height="13" fill="#00ff00"/>
<rect x="836" y="654" width="3" height="12" fill="#00ff00"/>
<rect x="852" y="652" width="3" height="14" fill="#00ff00"/>
<rect x="868" y="645" width="3" height="21" fill="#00ff00"/>
<rect x="884" y="640" width="3" height="26" fill="#00ff00"/>
<rect x="900" y="636" width="3" height="30" fill="#00ff00"/>
<rect x="916" y="635" width="3" height="31" fill="#00ff00"/>
<rect x="932" y="635" width="3" height="31" fill="#00ff00"/>
<rect x="948" y="638" width="3" height="28" fill="#00ff00"/>
<rect x="964" y="636" width="3" height="30" fill="#00ff00"/>
<rect x="980" y="633" width="3" height="33" fill="#00ff00"/>
<rect x="996" y="631" width="3" height="35" fill="#00ff00"/>
<rect x="1012" y="629" width="3" height="37" fill="#00ff00"/>
<rect x="1028" y="627" width="3" height="39" fill="#00ff00"/>
<rect x="1044" y="624" width="3" height="42" fill="#00ff00"/>
<rect x="1060" y="623" width="3" height="43" fill="#00ff00"/>
<rect x="1076" y="620" width="3" height="46" fill="#00ff00"/>
<rect x="1092" y="618" width="3" height="48" fill="#00ff00"/>
<rect x="1108" y="615" width="3" height="51" fill="#00ff00"/>
<rect x="1124" y="615" width="3" height="51" fill="#00ff00"/>
<rect x="1140" y="618" width="3" height="48" fill="#00ff00"/>
<rect x="1156" y="615" width="3" height="51" fill="#00ff00"/>
<rect x="1172" y="612" width="3" height="54" fill="#00ff00"/>
<rect x="1188" y="611" width="3" height="55" fill="#00ff00"/>
<rect x="1204" y="609" width="3" height="57" fill="#00ff00"/>
<rect x="1220" y="608" width="3" height="58" fill="#00ff00"/>
<rect x="1236" y="604" width="3" height="62" fill="#00ff00"/>
<rect x="1252" y="600" width="3" height="66" fill="#00ff00"/>
<rect x="1268" y="594" width="3" height="72" fill="#00ff00"/>
<rect x="1284" y="591" width="3" height="75" fill="#00ff00"/>
<polyline fill="none" stroke="#ff0000" stroke-width="2" points="4.5,671.5 5.5,671.5 21.5,671.5 37.5,671.5 53.5,671.5 69.5,671.5 85.5,671.5 101.5,671.5 117.5,670.5 133.5,670.5 149.5,669.5 165.5,669.5 181.5,669 197.5,669.5 213.5,670.2 229.5,672 245.5,674 261.5,677 277.5,679 293.5,682.5 309.5,685.3 325.5,688.2 341.5,689.3 357.5,691 373.5,691 389.5,691 405.5,690.9 421.5,689 437.5,686.5 453.5,684 469.5,681.5 485.5,679.2 501.5,676.8 517.5,673.4 533.5,671.1 549.5,670.7 565.5,668.3 581.5,667.3 597.5,665.2 613.5,664.3 629.5,662.2 645.5,661.5 661.5,661 677.5,659.2 693.5,658.8 709.5,658.8 725.5,658.8 741.5,658.8 757.5,658.1 773.5,658 789.5,658 805.5,658 821.5,656.9 837.5,656.1 853.5,655.2 869.5,653.5 885.5,651.5 901.5,649.4 917.5,647.4 933.5,645.3 949.5,643.3 965.5,641.3 981.5,639.2 997.5,637.2 1013.5,635.1 1029.5,633.1 1045.5,631.7 1061.5,631.1 1077.5,629.1 1093.5,627.4 1109.5,625.5 1125.5,623.5 1141.5,621.4 1157.5,620.6 1173.5,618.3 1189.5,616.3 1205.5,615.6 1221.5,614.2 1237.5,612.2 1253.5,610.4 1269.5,608.4 1285.5,605.8"/>
</g>
<text x="9" y="597" transform="translate(0.684,0) scale(0.9240,1)" font-family='"Liberation Sans", sans-serif' font-size="10.2" fill="#000" stroke="#000" stroke-width="0.22">MACD(12,26,9) 0.008020 0.006501</text>
<text x="1648" y="595.5" transform="translate(150.259,0) scale(0.9088,1)" font-family='"Liberation Sans", sans-serif' font-size="10.2" fill="#000" stroke="#000" stroke-width="0.22">0.008575</text>
<text x="1648" y="670.5" transform="translate(150.259,0) scale(0.9088,1)" font-family='"Liberation Sans", sans-serif' font-size="10.2" fill="#000" stroke="#000" stroke-width="0.22">0.00</text>
<text x="1648" y="697.5" transform="translate(150.259,0) scale(0.9088,1)" font-family='"Liberation Sans", sans-serif' font-size="10.2" fill="#000" stroke="#000" stroke-width="0.22">-0.003628</text>
<rect x="1645" y="666" width="2" height="1" fill="#000"/>
<line x1="6" y1="727.5" x2="1644" y2="727.5" stroke="#000" stroke-width="1" stroke-dasharray="3 3"/>
<line x1="6" y1="763.5" x2="1644" y2="763.5" stroke="#000" stroke-width="1" stroke-dasharray="3 3"/>
<line x1="6" y1="805.5" x2="1644" y2="805.5" stroke="#000" stroke-width="1" stroke-dasharray="3 3"/>
<defs><clipPath id="crsi"><rect x="5" y="703" width="1639" height="121"/></clipPath></defs>
<polyline clip-path="url(#crsi)" fill="none" stroke="#1e90ff" stroke-width="2" points="4.5,768.9 5.5,768.9 21.5,770.7 37.5,770.7 53.5,765.5 69.5,762.8 85.5,764.6 101.5,758.1 117.5,756.7 133.5,759.4 149.5,764.9 165.5,764.9 181.5,783.2 197.5,787.7 213.5,786.3 229.5,786.2 245.5,788.6 261.5,780.9 277.5,777.8 293.5,784.8 309.5,784.8 325.5,784.8 341.5,783.6 357.5,775 373.5,772.7 389.5,755.1 405.5,758.5 421.5,758.7 437.5,757.7 453.5,766.9 469.5,764.9 485.5,759.8 501.5,760.5 517.5,760.5 533.5,760.5 549.5,759.7 565.5,753.6 581.5,749.9 597.5,754.9 613.5,754.9 629.5,758.7 645.5,757.8 661.5,762 677.5,759.8 693.5,760.8 709.5,760.8 725.5,763.8 741.5,754 757.5,742.8 773.5,759.8 789.5,755.3 805.5,755.3 821.5,756 837.5,757.8 853.5,751.7 869.5,738.1 885.5,738.5 901.5,739.1 917.5,746.9 933.5,746.9 949.5,756.9 965.5,747.2 981.5,743.5 997.5,742.9 1013.5,741.9 1029.5,741.9 1045.5,737.8 1061.5,740.8 1077.5,737.4 1093.5,736.3 1109.5,734.9 1125.5,737.6 1141.5,747.8 1157.5,738 1173.5,737.6 1189.5,737.6 1205.5,736.5 1221.5,734.6 1237.5,731.5 1253.5,728.4 1269.5,725.1 1285.5,725"/>
<text x="9" y="715" transform="translate(0.639,0) scale(0.9290,1)" font-family='"Liberation Sans", sans-serif' font-size="10.2" fill="#000" stroke="#000" stroke-width="0.22">RSI(14) 82.2132</text>
<text x="1648" y="713.5" transform="translate(150.259,0) scale(0.9088,1)" font-family='"Liberation Sans", sans-serif' font-size="10.2" fill="#000" stroke="#000" stroke-width="0.22">100</text>
<text x="1648" y="731.0" transform="translate(150.259,0) scale(0.9088,1)" font-family='"Liberation Sans", sans-serif' font-size="10.2" fill="#000" stroke="#000" stroke-width="0.22">80</text>
<text x="1648" y="767.0" transform="translate(150.259,0) scale(0.9088,1)" font-family='"Liberation Sans", sans-serif' font-size="10.2" fill="#000" stroke="#000" stroke-width="0.22">50</text>
<text x="1648" y="809.0" transform="translate(150.259,0) scale(0.9088,1)" font-family='"Liberation Sans", sans-serif' font-size="10.2" fill="#000" stroke="#000" stroke-width="0.22">15</text>
<text x="1648" y="821.0" transform="translate(150.259,0) scale(0.9088,1)" font-family='"Liberation Sans", sans-serif' font-size="10.2" fill="#000" stroke="#000" stroke-width="0.22">0</text>
<rect x="1645" y="727" width="2" height="1" fill="#000"/>
<rect x="1645" y="763" width="2" height="1" fill="#000"/>
<rect x="1645" y="805" width="2" height="1" fill="#000"/>
<rect x="5" y="825" width="1" height="3" fill="#000"/>
<text x="4" y="837" transform="translate(0.365,0) scale(0.9088,1)" font-family='"Liberation Sans", sans-serif' font-size="10.2" fill="#000" stroke="#000" stroke-width="0.22">26 Jun 2023</text>
<rect x="69" y="825" width="1" height="3" fill="#000"/>
<text x="68" y="837" transform="translate(6.200,0) scale(0.9088,1)" font-family='"Liberation Sans", sans-serif' font-size="10.2" fill="#000" stroke="#000" stroke-width="0.22">27 Jun 04:00</text>
<rect x="133" y="825" width="1" height="3" fill="#000"/>
<text x="132" y="837" transform="translate(12.035,0) scale(0.9088,1)" font-family='"Liberation Sans", sans-serif' font-size="10.2" fill="#000" stroke="#000" stroke-width="0.22">27 Jun 20:00</text>
<rect x="197" y="825" width="1" height="3" fill="#000"/>
<text x="196" y="837" transform="translate(17.871,0) scale(0.9088,1)" font-family='"Liberation Sans", sans-serif' font-size="10.2" fill="#000" stroke="#000" stroke-width="0.22">28 Jun 12:00</text>
<rect x="261" y="825" width="1" height="3" fill="#000"/>
<text x="260" y="837" transform="translate(23.706,0) scale(0.9088,1)" font-family='"Liberation Sans", sans-serif' font-size="10.2" fill="#000" stroke="#000" stroke-width="0.22">29 Jun 04:00</text>
<rect x="325" y="825" width="1" height="3" fill="#000"/>
<text x="324" y="837" transform="translate(29.541,0) scale(0.9088,1)" font-family='"Liberation Sans", sans-serif' font-size="10.2" fill="#000" stroke="#000" stroke-width="0.22">29 Jun 20:00</text>
<rect x="389" y="825" width="1" height="3" fill="#000"/>
<text x="388" y="837" transform="translate(35.376,0) scale(0.9088,1)" font-family='"Liberation Sans", sans-serif' font-size="10.2" fill="#000" stroke="#000" stroke-width="0.22">30 Jun 12:00</text>
<rect x="453" y="825" width="1" height="3" fill="#000"/>
<text x="452" y="837" transform="translate(41.212,0) scale(0.9088,1)" font-family='"Liberation Sans", sans-serif' font-size="10.2" fill="#000" stroke="#000" stroke-width="0.22">3 Jul 04:00</text>
<rect x="517" y="825" width="1" height="3" fill="#000"/>
<text x="516" y="837" transform="translate(47.047,0) scale(0.9088,1)" font-family='"Liberation Sans", sans-serif' font-size="10.2" fill="#000" stroke="#000" stroke-width="0.22">3 Jul 20:00</text>
<rect x="581" y="825" width="1" height="3" fill="#000"/>
<text x="580" y="837" transform="translate(52.882,0) scale(0.9088,1)" font-family='"Liberation Sans", sans-serif' font-size="10.2" fill="#000" stroke="#000" stroke-width="0.22">4 Jul 12:00</text>
<rect x="645" y="825" width="1" height="3" fill="#000"/>
<text x="644" y="837" transform="translate(58.718,0) scale(0.9088,1)" font-family='"Liberation Sans", sans-serif' font-size="10.2" fill="#000" stroke="#000" stroke-width="0.22">5 Jul 04:00</text>
<rect x="709" y="825" width="1" height="3" fill="#000"/>
<text x="708" y="837" transform="translate(64.553,0) scale(0.9088,1)" font-family='"Liberation Sans", sans-serif' font-size="10.2" fill="#000" stroke="#000" stroke-width="0.22">5 Jul 20:00</text>
<rect x="773" y="825" width="1" height="3" fill="#000"/>
<text x="772" y="837" transform="translate(70.388,0) scale(0.9088,1)" font-family='"Liberation Sans", sans-serif' font-size="10.2" fill="#000" stroke="#000" stroke-width="0.22">6 Jul 12:00</text>
<rect x="837" y="825" width="1" height="3" fill="#000"/>
<text x="836" y="837" transform="translate(76.224,0) scale(0.9088,1)" font-family='"Liberation Sans", sans-serif' font-size="10.2" fill="#000" stroke="#000" stroke-width="0.22">7 Jul 04:00</text>
<rect x="901" y="825" width="1" height="3" fill="#000"/>
<text x="900" y="837" transform="translate(82.059,0) scale(0.9088,1)" font-family='"Liberation Sans", sans-serif' font-size="10.2" fill="#000" stroke="#000" stroke-width="0.22">9 Jul 23:00</text>
<rect x="965" y="825" width="1" height="3" fill="#000"/>
<text x="964" y="837" transform="translate(87.894,0) scale(0.9088,1)" font-family='"Liberation Sans", sans-serif' font-size="10.2" fill="#000" stroke="#000" stroke-width="0.22">10 Jul 12:00</text>
<rect x="1029" y="825" width="1" height="3" fill="#000"/>
<text x="1028" y="837" transform="translate(93.729,0) scale(0.9088,1)" font-family='"Liberation Sans", sans-serif' font-size="10.2" fill="#000" stroke="#000" stroke-width="0.22">11 Jul 04:00</text>
<rect x="1093" y="825" width="1" height="3" fill="#000"/>
<text x="1092" y="837" transform="translate(99.565,0) scale(0.9088,1)" font-family='"Liberation Sans", sans-serif' font-size="10.2" fill="#000" stroke="#000" stroke-width="0.22">11 Jul 20:00</text>
<rect x="1157" y="825" width="1" height="3" fill="#000"/>
<text x="1156" y="837" transform="translate(105.400,0) scale(0.9088,1)" font-family='"Liberation Sans", sans-serif' font-size="10.2" fill="#000" stroke="#000" stroke-width="0.22">12 Jul 12:00</text>
<rect x="1221" y="825" width="1" height="3" fill="#000"/>
<text x="1220" y="837" transform="translate(111.235,0) scale(0.9088,1)" font-family='"Liberation Sans", sans-serif' font-size="10.2" fill="#000" stroke="#000" stroke-width="0.22">13 Jul 04:00</text>
<rect x="1285" y="825" width="1" height="3" fill="#000"/>
<text x="1284" y="837" transform="translate(117.071,0) scale(0.9088,1)" font-family='"Liberation Sans", sans-serif' font-size="10.2" fill="#000" stroke="#000" stroke-width="0.22">13 Jul 20:00</text>
</svg>
</body></html>
